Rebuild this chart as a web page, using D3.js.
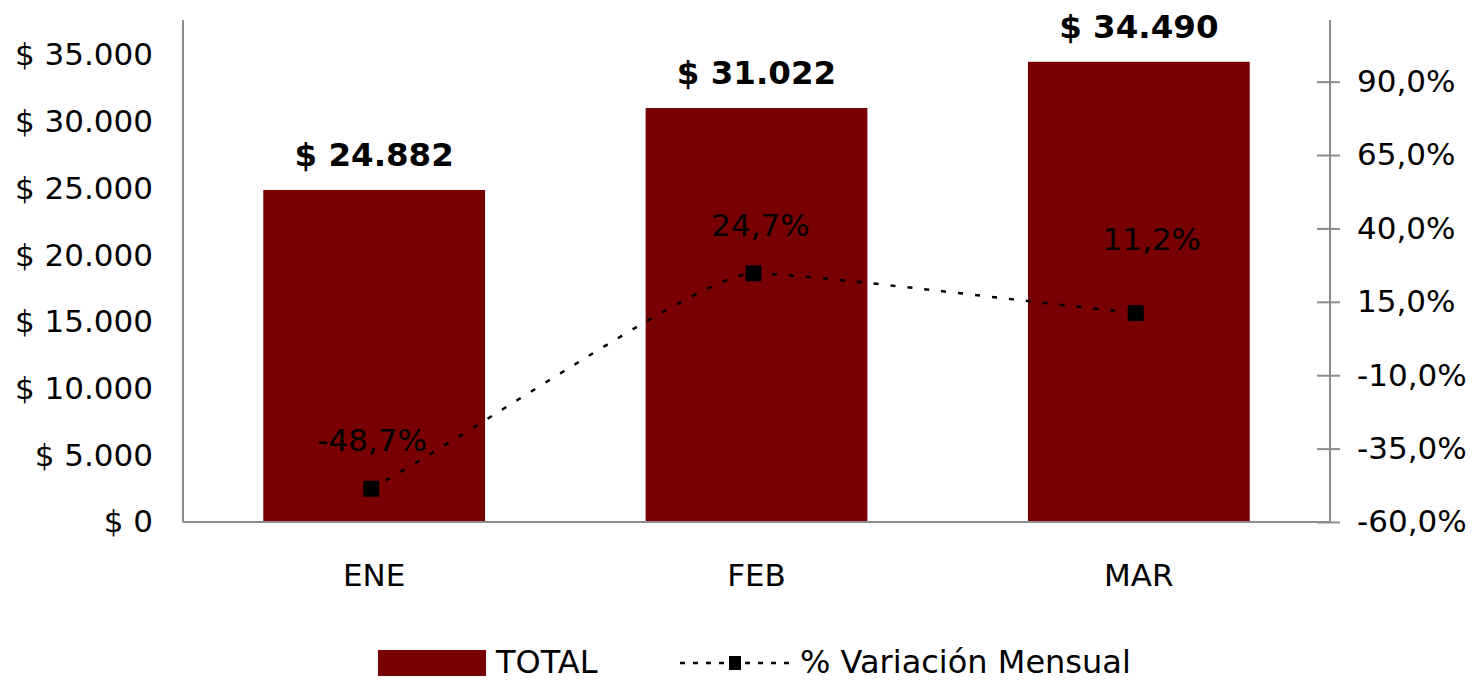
<!DOCTYPE html>
<html>
<head>
<meta charset="utf-8">
<script src="https://cdn.jsdelivr.net/npm/d3@7"></script>
<style>
  body { margin: 0; background: #fff; }
  text { font-family: "DejaVu Sans", Verdana, sans-serif; }
</style>
</head>
<body>
<div id="chart"></div>
<script>
const months = ["ENE", "FEB", "MAR"];
const totals = [24882, 31022, 34490];
const variation = [-48.7, 24.7, 11.2];
const leftTicks = [0, 5000, 10000, 15000, 20000, 25000, 30000, 35000];
const rightTicks = [-60, -35, -10, 15, 40, 65, 90];

const W = 1483, H = 681;
const m = { top: 20, right: 153, bottom: 159, left: 183 };
const barColor = "#780000";
const axisColor = "#8c8c8c";

const svg = d3.select("#chart").append("svg")
  .attr("width", W).attr("height", H);

const x = d3.scaleBand().domain(months)
  .range([m.left, W - m.right]).paddingInner(0.42).paddingOuter(0.21);
const yL = d3.scaleLinear().domain([0, 37620]).range([H - m.bottom, m.top]);
const yR = d3.scaleLinear().domain([-60, 111]).range([H - m.bottom, m.top]);

const fmtMoney = v => "$ " + d3.format(",")(v).replace(/,/g, ".");
const fmtPct = v => (v < 0 ? "-" : "") + Math.abs(v).toFixed(1).replace(".", ",") + "%";

// bars
svg.append("g").selectAll("rect")
  .data(totals)
  .join("rect")
  .attr("x", (d, i) => x(months[i]))
  .attr("y", d => yL(d))
  .attr("width", x.bandwidth())
  .attr("height", d => yL(0) - yL(d))
  .attr("fill", barColor);

// left axis (no ticks)
const gL = svg.append("g")
  .attr("transform", `translate(${m.left},0)`)
  .call(d3.axisLeft(yL).tickValues(leftTicks).tickSize(0).tickPadding(30).tickFormat(fmtMoney));
gL.select(".domain").remove();
gL.selectAll("text").style("font-size", "31px").attr("fill", "#000");
svg.append("line")
  .attr("x1", m.left).attr("x2", m.left)
  .attr("y1", m.top).attr("y2", H - m.bottom)
  .attr("stroke", axisColor).attr("stroke-width", 2);

// right axis, ticks crossing
const gR = svg.append("g")
  .attr("transform", `translate(${W - m.right},0)`)
  .call(d3.axisRight(yR).tickValues(rightTicks).tickSize(10).tickPadding(17).tickFormat(fmtPct));
gR.select(".domain").remove();
gR.selectAll(".tick line").attr("x1", -13).attr("x2", 10).attr("stroke", axisColor).attr("stroke-width", 2);
gR.selectAll("text").style("font-size", "31px").attr("fill", "#000");
svg.append("line")
  .attr("x1", W - m.right).attr("x2", W - m.right)
  .attr("y1", m.top).attr("y2", H - m.bottom)
  .attr("stroke", axisColor).attr("stroke-width", 2);

// bottom axis
const gX = svg.append("g")
  .attr("transform", `translate(0,${H - m.bottom})`)
  .call(d3.axisBottom(x).tickSize(0).tickPadding(42));
gX.select(".domain").attr("stroke", axisColor).attr("stroke-width", 2)
  .attr("d", `M${m.left},0H${W - m.right}`);
gX.selectAll("text").style("font-size", "31px").attr("fill", "#000");

// bar labels
svg.append("g").selectAll("text")
  .data(totals)
  .join("text")
  .attr("x", (d, i) => x(months[i]) + x.bandwidth() / 2)
  .attr("y", d => yL(d) - 24)
  .attr("text-anchor", "middle")
  .style("font-size", "32.5px").style("font-weight", "bold")
  .text(fmtMoney);

// variation line: smoothed, nearly straight, bending flat at the turning point
const cx = i => x(months[i]) + x.bandwidth() / 2 - 3;
const pts = variation.map((v, i) => [cx(i), yR(v)]);
const sec = d3.pairs(pts).map(([a, b]) => (b[1] - a[1]) / (b[0] - a[0]));
const last = pts.length - 1;
const tang = pts.map((p, i) => {
  if (i === 0) return sec[0];
  if (i === last) return sec[sec.length - 1];
  const a = sec[i - 1], b = sec[i];
  return a * b <= 0 ? 0 : 2 * a * b / (a + b);
});
const arm = (i, h) => (i === 0 || i === last) ? h / 3 : h * 0.13;
const path = d3.path();
path.moveTo(pts[0][0], pts[0][1]);
d3.pairs(pts).forEach(([a, b], i) => {
  const h = b[0] - a[0];
  const k1 = arm(i, h), k2 = arm(i + 1, h);
  path.bezierCurveTo(a[0] + k1, a[1] + tang[i] * k1, b[0] - k2, b[1] - tang[i + 1] * k2, b[0], b[1]);
});
svg.append("path")
  .attr("d", path.toString())
  .attr("fill", "none")
  .attr("stroke", "#000")
  .attr("stroke-width", 2.5)
  .attr("stroke-dasharray", "5,12");

svg.append("g").selectAll("rect")
  .data(variation)
  .join("rect")
  .attr("x", (d, i) => cx(i) - 8)
  .attr("y", d => yR(d) - 8)
  .attr("width", 16).attr("height", 16)
  .attr("rx", 1.5)
  .attr("fill", "#000");

const labelShift = [[1, -38], [7, -37], [16, -63]];
svg.append("g").selectAll("text")
  .data(variation)
  .join("text")
  .attr("x", (d, i) => cx(i) + labelShift[i][0])
  .attr("y", (d, i) => yR(d) + labelShift[i][1])
  .attr("text-anchor", "middle")
  .style("font-size", "31px")
  .attr("fill", "#000")
  .text(fmtPct);

// legend
const leg = svg.append("g").attr("transform", "translate(0,662)");
leg.append("rect")
  .attr("x", 378).attr("y", -12).attr("width", 108).attr("height", 26)
  .attr("fill", barColor);
leg.append("text")
  .attr("x", 496).attr("y", 0).attr("dy", "0.35em")
  .style("font-size", "32px").text("TOTAL");
leg.append("line")
  .attr("x1", 680).attr("x2", 792).attr("y1", 1).attr("y2", 1)
  .attr("stroke", "#000").attr("stroke-width", 2.5)
  .attr("stroke-dasharray", "5,8");
leg.append("rect")
  .attr("x", 729).attr("y", -6).attr("width", 12).attr("height", 14)
  .attr("fill", "#000");
leg.append("text")
  .attr("x", 800).attr("y", 0).attr("dy", "0.35em")
  .style("font-size", "32px").text("% Variación Mensual");
</script>
</body>
</html>
